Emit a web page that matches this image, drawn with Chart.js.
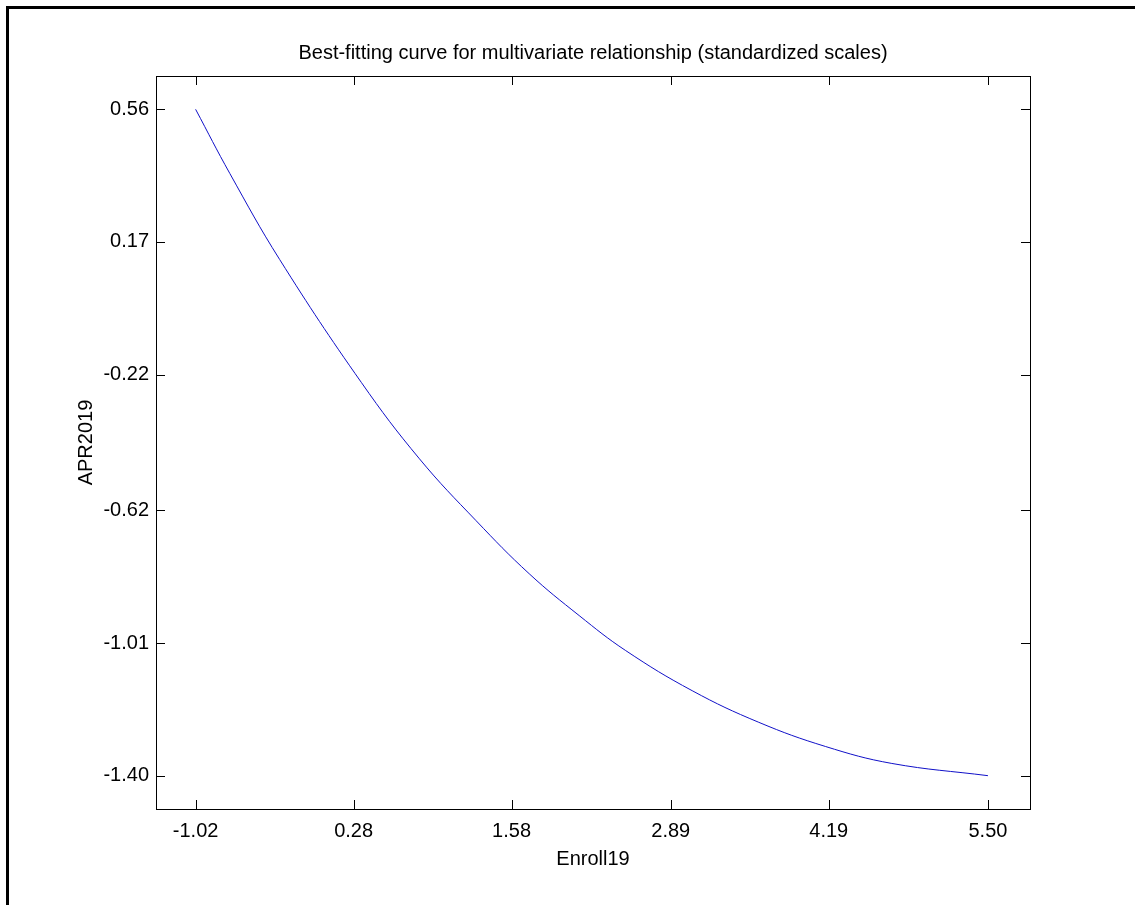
<!DOCTYPE html>
<html>
<head>
<meta charset="utf-8">
<title>Best-fitting curve</title>
<script src="https://cdn.jsdelivr.net/npm/chart.js@4.4.1/dist/chart.umd.min.js"></script>
<style>
    html, body { margin: 0; padding: 0; background: #fff; }
    #wrap { position: relative; width: 1135px; height: 905px; overflow: hidden; }
    #frame {
        position: absolute; left: 6px; top: 6px; width: 1200px; height: 1000px;
        border-top: 3px solid #000; border-left: 3px solid #000;
    }
    #chart { position: absolute; left: 0; top: 0; }
</style>
</head>
<body>
<div id="wrap">
    <div id="frame"></div>
    <canvas id="chart" width="1135" height="905"></canvas>
</div>
<script>
// Fitted curve, standardized scales
const enrollValues = [-1.02, -0.738, -0.328, 0.343, 0.822, 1.288, 1.725, 2.136, 2.519, 3.066, 3.614, 4.162, 4.709, 5.50];
const aprValues = [0.56, 0.371, 0.118, -0.243, -0.468, -0.650, -0.806, -0.929, -1.032, -1.150, -1.243, -1.314, -1.364, -1.40];

// Axis ticks and limits
const xTicks = [-1.02, 0.28, 1.58, 2.89, 4.19, 5.50];
const yTicks = [0.56, 0.17, -0.22, -0.62, -1.01, -1.40];
const xLimits = [-1.346, 5.846];
const yLimits = [-1.498, 0.658];

const FONT = "'Liberation Sans', Arial, sans-serif";

// Center the title over the plot area instead of the whole canvas
const titleOverPlot = {
    id: 'titleOverPlot',
    afterLayout(chart) {
        const t = chart.titleBlock;
        if (!t) return;
        t.left = chart.chartArea.left;
        t.right = chart.chartArea.right;
        t.width = t.right - t.left;
    }
};

// Box around the plot area plus inward tick marks on all four sides
const boxTicks = {
    id: 'boxTicks',
    afterDraw(chart) {
        const { ctx, chartArea: a, scales } = chart;
        const len = 9;
        ctx.save();
        ctx.strokeStyle = '#000';
        ctx.lineWidth = 1;
        ctx.beginPath();
        xTicks.forEach(v => {
            const x = Math.round(scales.x.getPixelForValue(v)) + 0.5;
            ctx.moveTo(x, a.bottom); ctx.lineTo(x, a.bottom - len);
            ctx.moveTo(x, a.top); ctx.lineTo(x, a.top + len);
        });
        yTicks.forEach(v => {
            const y = Math.round(scales.y.getPixelForValue(v)) + 0.5;
            ctx.moveTo(a.left, y); ctx.lineTo(a.left + len, y);
            ctx.moveTo(a.right, y); ctx.lineTo(a.right - len, y);
        });
        ctx.stroke();
        ctx.strokeRect(a.left + 0.5, a.top + 0.5, a.right - a.left, a.bottom - a.top);
        ctx.restore();
    }
};

new Chart(document.getElementById('chart'), {
    type: 'line',
    data: {
        datasets: [{
            data: enrollValues.map((x, i) => ({ x: x, y: aprValues[i] })),
            borderColor: '#1010c8',
            borderWidth: 1,
            pointRadius: 0,
            fill: false,
            tension: 0.4
        }]
    },
    options: {
        responsive: false,
        animation: false,
        layout: { padding: { left: 0, top: 0, right: 105, bottom: 0 } },
        plugins: {
            legend: { display: false },
            tooltip: { enabled: false },
            title: {
                display: true,
                text: 'Best-fitting curve for multivariate relationship (standardized scales)',
                color: '#000',
                font: { family: FONT, size: 20, weight: 'normal', lineHeight: 1.2 },
                padding: { top: 41.5, bottom: 10.5 }
            }
        },
        scales: {
            x: {
                type: 'linear',
                min: xLimits[0],
                max: xLimits[1],
                afterBuildTicks: s => { s.ticks = xTicks.map(v => ({ value: v })); },
                afterFit: s => { s.height = 96; },
                grid: { display: false, drawTicks: false },
                border: { display: false },
                ticks: {
                    color: '#000',
                    padding: 10.5,
                    maxRotation: 0,
                    font: { family: FONT, size: 20 },
                    callback: v => v.toFixed(2)
                },
                title: {
                    display: true,
                    text: 'Enroll19',
                    color: '#000',
                    font: { family: FONT, size: 20, lineHeight: 1.2 },
                    padding: { top: 0, bottom: 34 }
                }
            },
            y: {
                type: 'linear',
                min: yLimits[0],
                max: yLimits[1],
                afterBuildTicks: s => { s.ticks = yTicks.map(v => ({ value: v })); },
                afterFit: s => { s.width = 156; },
                grid: { display: false, drawTicks: false },
                border: { display: false },
                ticks: {
                    color: '#000',
                    padding: 7,
                    font: { family: FONT, size: 20 },
                    callback: v => v.toFixed(2)
                },
                title: {
                    display: true,
                    text: 'APR2019',
                    color: '#000',
                    font: { family: FONT, size: 20, lineHeight: 1.2 },
                    padding: { top: 74, bottom: 0 }
                }
            }
        }
    },
    plugins: [titleOverPlot, boxTicks]
});
</script>
</body>
</html>
